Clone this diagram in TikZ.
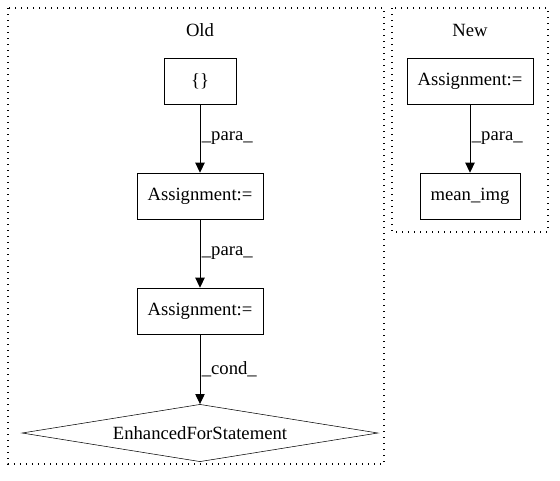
\documentclass[tikz,border=0pt]{standalone}
\usepackage{fontspec}
\setmainfont{Liberation Serif}
\usetikzlibrary{arrows.meta,shapes.geometric}
\tikzset{
  stmt/.style={draw,rectangle,minimum height=34.5pt,inner sep=0pt,font=\fontsize{14}{16}\selectfont},
  cond/.style={draw,diamond,aspect=6.2,inner sep=0pt,minimum width=267pt,minimum height=43pt,font=\fontsize{14}{16}\selectfont},
  edge/.style={-{Triangle[length=7.5pt,width=7pt]},line width=0.75pt},
  elabel/.style={font=\fontsize{14}{16}\selectfont,right,inner sep=1pt},
  cluster/.style={line width=0.9pt,dash pattern=on 0.9pt off 3.6pt}
}
\begin{document}
\begin{tikzpicture}[x=0.75pt,y=-0.75pt]
				\useasboundingbox (0,0) rectangle (560,480);
				\draw [cluster] (8,8) rectangle (384,464);
				\draw [cluster] (392,8) rectangle (548,232);
				\node [font=\fontsize{14}{16}\selectfont] (old) at (200,30) {Old};
				\node [font=\fontsize{14}{16}\selectfont] (new) at (470,30) {New};
				\node [stmt,minimum width=54pt] (braces) at (200,81) {\{\}};
				\node [stmt,minimum width=94.5pt] (assignA) at (200,196) {Assignment:=};
				\node [stmt,minimum width=94.5pt] (assignB) at (200,311) {Assignment:=};
				\node [cond] (efor) at (200,433) {EnhancedForStatement};
				\node [stmt,minimum width=94.5pt] (assignN) at (470,81) {Assignment:=};
				\node [stmt,minimum width=75pt] (meanimg) at (470,196) {mean\_img};
				\draw [edge] (braces) -- node [elabel] {\_para\_} (assignA);
				\draw [edge] (assignA) -- node [elabel] {\_para\_} (assignB);
				\draw [edge] (assignB) -- node [elabel] {\_cond\_} (efor.north);
				\draw [edge] (assignN) -- node [elabel] {\_para\_} (meanimg);
			\end{tikzpicture}
\end{document}
